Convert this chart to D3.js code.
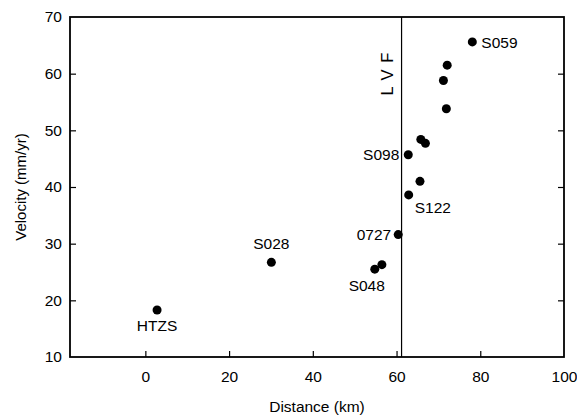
<!DOCTYPE html>
<html>
<head>
<meta charset="utf-8">
<script src="https://cdn.jsdelivr.net/npm/d3@7"></script>
<style>
  body { margin: 0; background: #fff; }
  text { font-family: "Liberation Sans", Arial, sans-serif; fill: #000; }
</style>
</head>
<body>
<div id="chart"></div>
<script>
// ---------- Data ---------- //
var sites     = ["HTZS", "S028", "S048", "", "0727", "S122", "", "S098", "", "", "", "", "", "S059"];
var distance  = [2.8, 30.1, 54.8, 56.5, 60.4, 62.9, 65.6, 62.8, 66.9, 65.8, 71.9, 71.2, 72.1, 78.1];
var velocity  = [18.3, 26.7, 25.5, 26.3, 31.6, 38.6, 41.0, 45.7, 47.7, 48.4, 53.8, 58.8, 61.5, 65.6];
var xTicks = [0, 20, 40, 60, 80, 100];
var yTicks = [10, 20, 30, 40, 50, 60, 70];
var lvfDistance = 61.2;

// label placement: [dx, dy, anchor]
var labelPos = {
  "HTZS": [0, 21, "middle"],
  "S028": [0, -13, "middle"],
  "S048": [-8, 22, "middle"],
  "0727": [-7, 5, "end"],
  "S122": [6, 18, "start"],
  "S098": [-9, 5, "end"],
  "S059": [9, 6, "start"]
};

var width = 577, height = 416;
var margin = { top: 17, right: 13, bottom: 59, left: 70 };
var fs = 15.5;

var x = d3.scaleLinear().domain([-18, 100]).range([margin.left, width - margin.right]);
var y = d3.scaleLinear().domain([10, 70]).range([height - margin.bottom, margin.top]);

var data = distance.map(function(d, i){ return { x: d, y: velocity[i], name: sites[i] }; });

var svg = d3.select("#chart").append("svg")
  .attr("width", width)
  .attr("height", height);

// ticks (inside)
var xAxis = g => g
  .attr("transform", `translate(0,${y(10)})`)
  .call(d3.axisBottom(x).tickValues(xTicks).tickSizeInner(-6).tickSizeOuter(0).tickPadding(14))
  .call(g => g.select(".domain").remove())
  .call(g => g.selectAll(".tick:last-of-type line").remove());

var yAxis = g => g
  .attr("transform", `translate(${x(-18)},0)`)
  .call(d3.axisLeft(y).tickValues(yTicks).tickSizeInner(-6).tickSizeOuter(0).tickPadding(8))
  .call(g => g.select(".domain").remove())
  .call(g => g.selectAll(".tick").filter(d => d == 10 || d == 70).select("line").remove());

var yRight = g => g
  .attr("transform", `translate(${x(100)},0)`)
  .call(d3.axisRight(y).tickValues(yTicks.filter(d => d > 10 && d < 70)).tickSizeInner(-6).tickSizeOuter(0).tickFormat(""))
  .call(g => g.select(".domain").remove());

svg.append("g").call(xAxis);
svg.append("g").call(yAxis);
svg.append("g").call(yRight);

svg.selectAll(".tick text")
  .attr("font-size", fs)
  .attr("font-family", "Liberation Sans, Arial, sans-serif")
  .attr("fill", "#000");
svg.selectAll(".tick line").attr("stroke", "#000").attr("stroke-width", 1.2);

// frame
svg.append("rect")
  .attr("x", x(-18))
  .attr("y", y(70))
  .attr("width", x(100) - x(-18))
  .attr("height", y(10) - y(70))
  .attr("fill", "none")
  .attr("stroke", "#000")
  .attr("stroke-width", 1.8);

// LVF line
svg.append("line")
  .attr("x1", x(lvfDistance)).attr("x2", x(lvfDistance))
  .attr("y1", y(70)).attr("y2", y(10))
  .attr("stroke", "#000")
  .attr("stroke-width", 1.2);

svg.append("text")
  .attr("transform", `translate(${x(lvfDistance) - 9},${y(60)}) rotate(-90)`)
  .attr("text-anchor", "middle")
  .attr("font-size", 16.5)
  .attr("letter-spacing", 1)
  .text("L V F");

// points
svg.append("g")
  .selectAll("circle")
  .data(data)
  .join("circle")
  .attr("cx", d => x(d.x))
  .attr("cy", d => y(d.y))
  .attr("r", 4.5)
  .attr("fill", "#000");

svg.append("g")
  .attr("font-size", fs)
  .selectAll("text")
  .data(data.filter(d => d.name))
  .join("text")
  .attr("x", d => x(d.x) + labelPos[d.name][0])
  .attr("y", d => y(d.y) + labelPos[d.name][1])
  .attr("text-anchor", d => labelPos[d.name][2])
  .text(d => d.name);

// axis titles
svg.append("text")
  .attr("x", (x(-18) + x(100)) / 2)
  .attr("y", 412)
  .attr("text-anchor", "middle")
  .attr("font-size", fs)
  .text("Distance (km)");

svg.append("text")
  .attr("transform", `translate(26,${(y(10) + y(70)) / 2}) rotate(-90)`)
  .attr("text-anchor", "middle")
  .attr("font-size", 15)
  .text("Velocity (mm/yr)");
</script>
</body>
</html>
